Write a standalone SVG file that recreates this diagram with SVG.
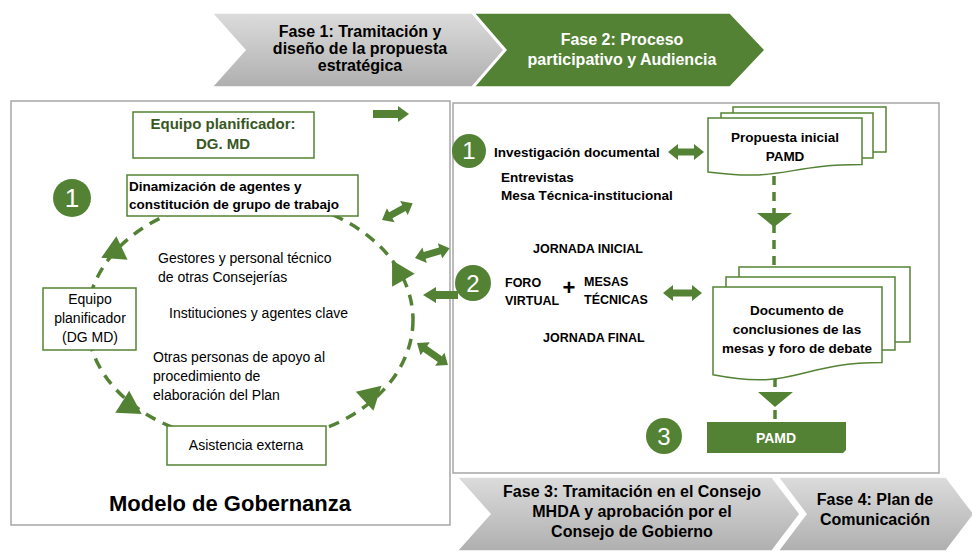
<svg xmlns="http://www.w3.org/2000/svg" width="972" height="552" viewBox="0 0 972 552">
<defs>
<style>
text{font-family:"Liberation Sans",Arial,sans-serif;fill:#000}
.b{font-weight:bold}
.w{fill:#fff}
.dg{fill:#385723}
.m{text-anchor:middle}
.panel{fill:#fff;stroke:#a6a6a6;stroke-width:1.5}
.box{fill:#fff;stroke:#548235;stroke-width:1.5}
.gf{fill:#548235}
.cyc{fill:none;stroke:#548235;stroke-width:3.5;stroke-dasharray:11 8}
.vd{fill:none;stroke:#548235;stroke-width:3.5;stroke-dasharray:9 7}
.chev{fill:url(#gr);stroke:#fff;stroke-width:1.5}
</style>
<linearGradient id="gr" x1="0" y1="0" x2="0" y2="1">
<stop offset="0" stop-color="#dcdcdc"/>
<stop offset="1" stop-color="#afafaf"/>
</linearGradient>
<polygon id="ah" points="2,0 -21,-13 -21,13"/>
</defs>
<rect width="972" height="552" fill="#fff"/>

<g id="fase1">
<polygon class="chev" points="212,13 472,13 504,50 472,87 212,87 245,50"/>
<text class="b m" font-size="16" x="360" y="37">Fase 1: Tramitación y</text>
<text class="b m" font-size="16" x="360" y="54">diseño de la propuesta</text>
<text class="b m" font-size="16" x="360" y="71">estratégica</text>
</g>
<g id="fase2">
<polygon fill="#548235" stroke="#fff" stroke-width="1.5" points="474,13 730,13 765,50 730,87 474,87 506,50"/>
<text class="b m w" font-size="16" x="622" y="45">Fase 2: Proceso</text>
<text class="b m w" font-size="16" x="622" y="65">participativo y Audiencia</text>
</g>

<g id="panel-gobernanza">
<rect class="panel" x="11" y="101" width="439" height="424"/>
<text class="b m" font-size="22" x="230" y="511">Modelo de Gobernanza</text>
</g>
<g id="panel-proceso">
<rect class="panel" x="453" y="103" width="486" height="370"/>
</g>

<g id="connectors">
<ellipse class="cyc" cx="250" cy="320" rx="163" ry="122"/>
<g class="gf">
<use href="#ah" transform="translate(103,257) rotate(154.5)"/>
<use href="#ah" transform="translate(140,413) rotate(32.3)"/>
<use href="#ah" transform="translate(380,387) rotate(-42.9)"/>
<use href="#ah" transform="translate(393,262) rotate(-119.7)"/>
</g>
<path class="gf" d="M373,110 H398 V106 L409,114 L398,122 V118 H373 Z"/>
<path class="gf" transform="translate(382,220) rotate(-28.7)" d="M0,0 L10,-8 L10,-3.5 L25,-3.5 L25,-8 L35,0 L25,8 L25,3.5 L10,3.5 L10,8 Z"/>
<path class="gf" transform="translate(415,258) rotate(-15.9)" d="M0,0 L10,-8 L10,-3.5 L26,-3.5 L26,-8 L36,0 L26,8 L26,3.5 L10,3.5 L10,8 Z"/>
<path class="gf" d="M423,295 L436,287 V291 H458 V299 H436 V303 Z"/>
<path class="gf" transform="translate(417,343) rotate(35.4)" d="M0,0 L10,-8 L10,-3.5 L28,-3.5 L28,-8 L38,0 L28,8 L28,3.5 L10,3.5 L10,8 Z"/>
<path class="gf" transform="translate(668,152)" d="M0,0 L10,-8 L10,-3.5 L26,-3.5 L26,-8 L36,0 L26,8 L26,3.5 L10,3.5 L10,8 Z"/>
<path class="gf" transform="translate(663,293)" d="M0,0 L10,-8 L10,-3.5 L29,-3.5 L29,-8 L39,0 L29,8 L29,3.5 L10,3.5 L10,8 Z"/>
<line class="vd" x1="774" y1="176" x2="774" y2="267"/>
<polygon class="gf" points="757,213 792,213 774,227"/>
<line class="vd" x1="775" y1="378" x2="775" y2="422"/>
<polygon class="gf" points="758,392 793,392 775,407"/>
</g>

<g id="equipo-planificador-dg">
<rect class="box" x="133" y="112" width="181" height="46"/>
<text class="b m dg" font-size="15" x="223" y="129">Equipo planificador:</text>
<text class="b m dg" font-size="15" x="223" y="149">DG. MD</text>
</g>
<g id="num1-left">
<circle class="gf" cx="72" cy="198" r="19"/>
<text class="m w" font-size="26" x="72" y="207">1</text>
</g>
<g id="dinamizacion">
<rect class="box" x="127" y="175" width="231" height="41"/>
<text class="b" font-size="13.5" x="129" y="191">Dinamización de agentes y</text>
<text class="b" font-size="13.5" x="129" y="209">constitución de grupo de trabajo</text>
</g>
<g id="equipo-planificador">
<rect class="box" x="43" y="288" width="93" height="62"/>
<text class="m" font-size="14" x="90" y="304">Equipo</text>
<text class="m" font-size="14" x="90" y="323">planificador</text>
<text class="m" font-size="14" x="90" y="342">(DG MD)</text>
</g>
<g id="agentes">
<text font-size="14" x="158" y="263">Gestores y personal técnico</text>
<text font-size="14" x="158" y="282">de otras Consejerías</text>
<text font-size="14" x="169" y="318">Instituciones y agentes clave</text>
<text font-size="14" x="153" y="362">Otras personas de apoyo al</text>
<text font-size="14" x="153" y="381">procedimiento de</text>
<text font-size="14" x="153" y="400">elaboración del Plan</text>
</g>
<g id="asistencia">
<rect class="box" x="167" y="426" width="159" height="39"/>
<text class="m" font-size="14" x="246" y="450">Asistencia externa</text>
</g>

<g id="paso1">
<circle class="gf" cx="469" cy="151" r="17"/>
<text class="m w" font-size="24" x="469" y="159">1</text>
<text class="b" font-size="13.5" x="494" y="157">Investigación documental</text>
<text class="b" font-size="13.5" x="501" y="182">Entrevistas</text>
<text class="b" font-size="13.5" x="501" y="200">Mesa Técnica-institucional</text>
</g>
<g id="propuesta-inicial">
<rect class="box" x="733" y="107" width="153" height="45"/>
<rect class="box" x="721" y="113" width="152" height="45"/>
<path class="box" d="M708,118 H862 V164.5 C785,164.5 785,182 708,172 Z"/>
<text class="b m" font-size="13.5" x="785" y="142">Propuesta inicial</text>
<text class="b m" font-size="13.5" x="785" y="161">PAMD</text>
</g>
<g id="paso2">
<text class="b" font-size="12.5" x="533" y="253">JORNADA INICIAL</text>
<circle class="gf" cx="473" cy="283" r="18"/>
<text class="m w" font-size="24" x="473" y="292">2</text>
<text class="b" font-size="12.5" x="505" y="287">FORO</text>
<text class="b" font-size="12.5" x="505" y="305">VIRTUAL</text>
<text class="b m" font-size="22" x="569" y="295">+</text>
<text class="b" font-size="12.5" x="584" y="286">MESAS</text>
<text class="b" font-size="12.5" x="584" y="304">TÉCNICAS</text>
<text class="b" font-size="12.5" x="543" y="342">JORNADA FINAL</text>
</g>
<g id="documento-conclusiones">
<rect class="box" x="739" y="267" width="171" height="75"/>
<rect class="box" x="726" y="277" width="169" height="73"/>
<path class="box" d="M713,287 H882 V362.4 C797.5,362.4 797.5,391 713,374.8 Z"/>
<text class="b m" font-size="13.5" x="797" y="315">Documento de</text>
<text class="b m" font-size="13.5" x="797" y="334">conclusiones de las</text>
<text class="b m" font-size="13.5" x="797" y="353">mesas y foro de debate</text>
</g>
<g id="paso3">
<circle class="gf" cx="664" cy="436" r="18"/>
<text class="m w" font-size="24" x="664" y="445">3</text>
</g>
<g id="pamd">
<polygon class="gf" points="707,422 846,422 846,450 843,453 707,453"/>
<text class="b m w" font-size="14" x="776" y="443">PAMD</text>
</g>

<g id="fase3">
<polygon class="chev" points="457,477 772,477 800,514 772,551 457,551 490,514"/>
<text class="b m" font-size="16" x="632" y="497">Fase 3: Tramitación en el Consejo</text>
<text class="b m" font-size="16" x="632" y="517">MHDA y aprobación por el</text>
<text class="b m" font-size="16" x="632" y="537">Consejo de Gobierno</text>
</g>
<g id="fase4">
<polygon class="chev" points="778,477 946,477 974,514 946,551 778,551 806,514"/>
<text class="b m" font-size="16" x="875" y="505">Fase 4: Plan de</text>
<text class="b m" font-size="16" x="875" y="525">Comunicación</text>
</g>
</svg>
